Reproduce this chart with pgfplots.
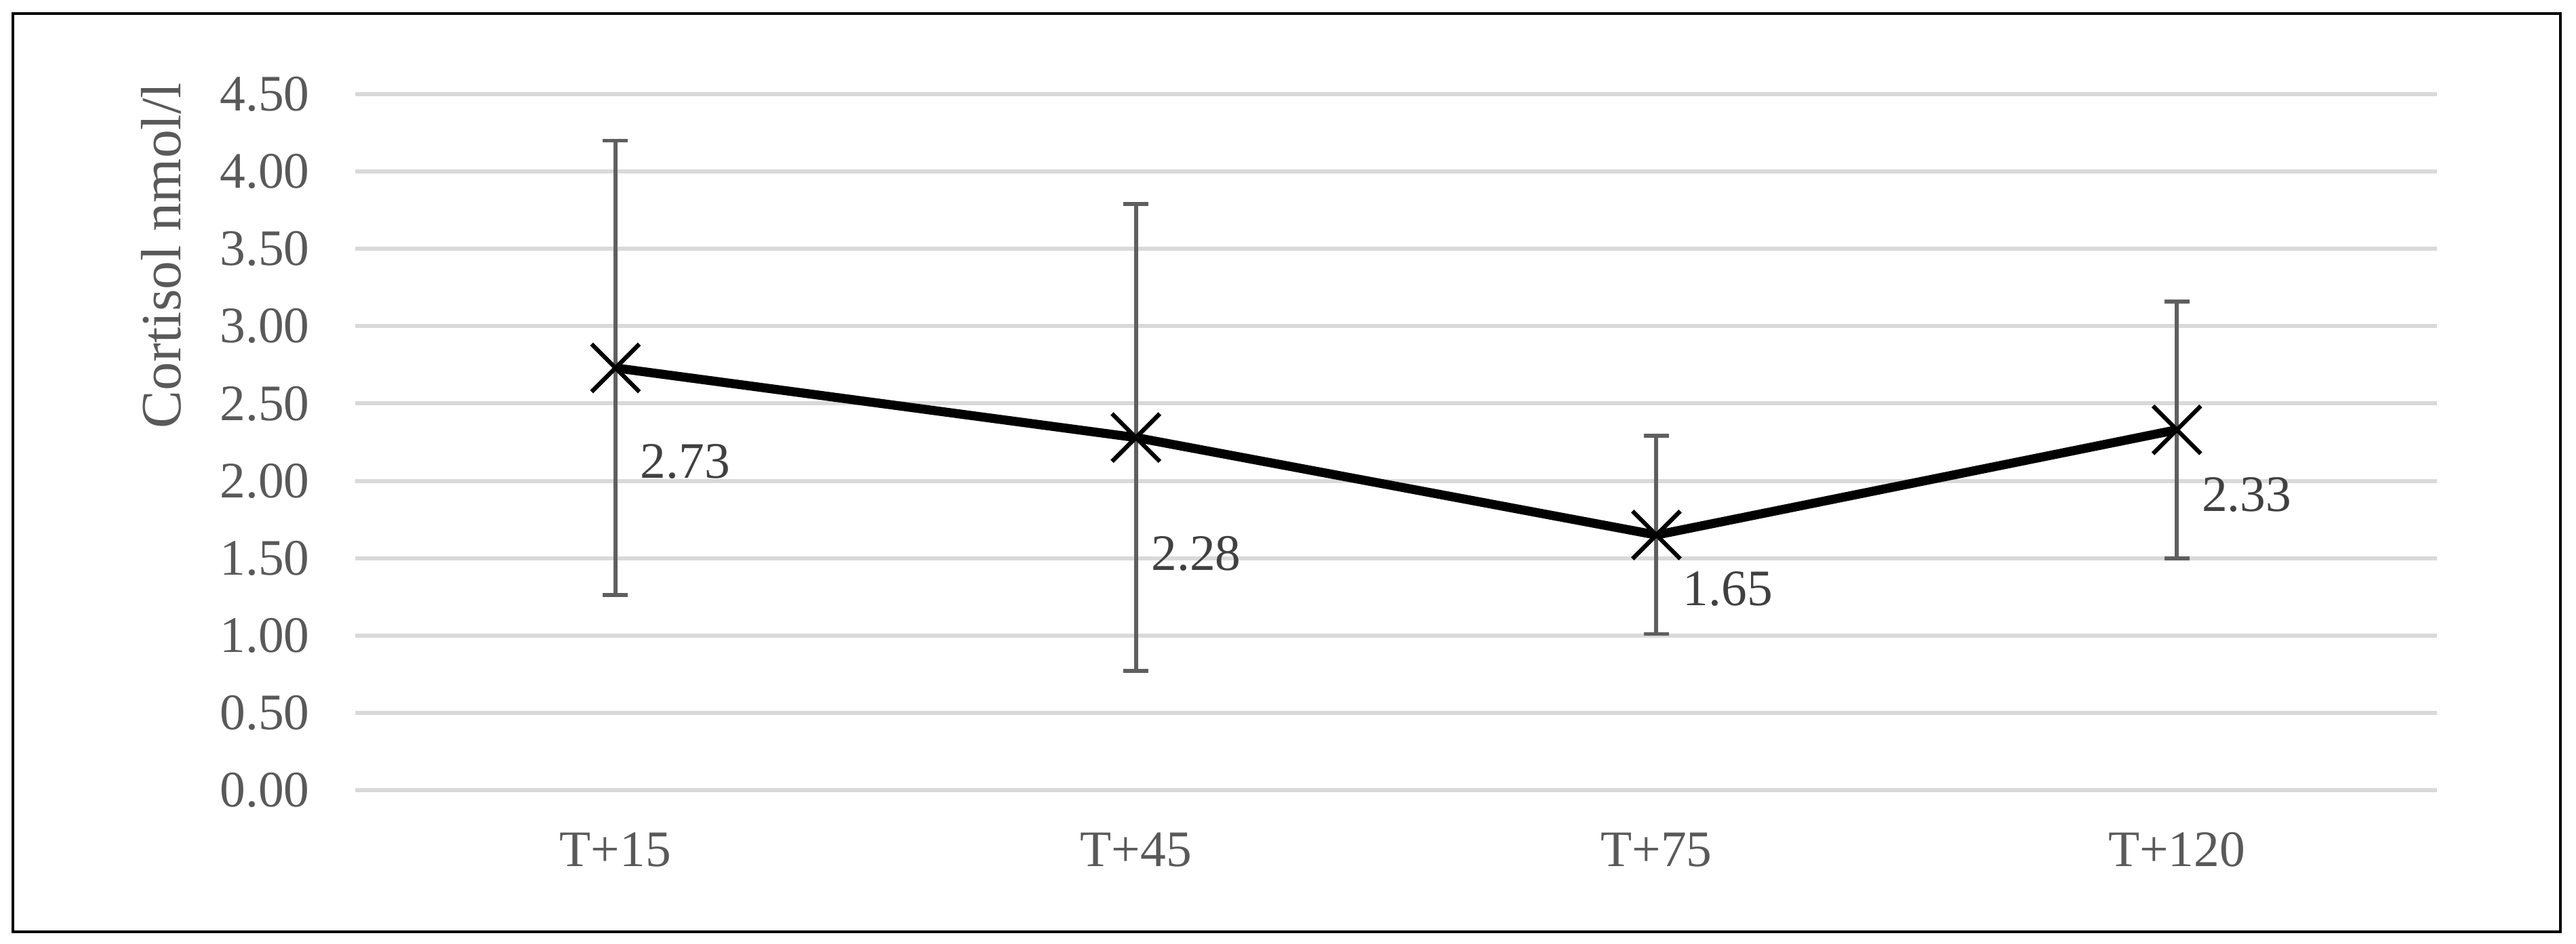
\documentclass[border=0pt]{standalone}
\usepackage{pgfplots}
\usepackage{pgfplotstable}
\usepackage{fontspec}
\setmainfont{Liberation Serif}
\pgfplotsset{compat=1.18}

\definecolor{tickgray}{HTML}{595959}
\definecolor{labelgray}{HTML}{404040}
\definecolor{gridgray}{HTML}{D9D9D9}
\definecolor{bargray}{HTML}{5F5F5F}

% mean cortisol, +- error, label offsets (pt)
\pgfplotstableread{
x y err dx dy
0 2.73 1.47 4.8 -22.0
1 2.28 1.51 2.9 -26.4
2 1.65 0.64 5.1 -14.1
3 2.33 0.83 4.8 -16.2
}\cortisol

\begin{document}
\begin{tikzpicture}
\useasboundingbox (0,0) rectangle (513.5pt,188.1pt);
\draw[line width=0.6pt] (2.57pt,2.3pt) rectangle (510.4pt,185.4pt);
\begin{axis}[
  at={(70.81pt,30.54pt)}, anchor=south west,
  scale only axis, width=415pt, height=138.78pt,
  clip=false,
  xmin=-0.5, xmax=3.5,
  ymin=0, ymax=4.5,
  xtick={0,1,2,3},
  xticklabels={T+15,T+45,T+75,T+120},
  ytick={0,0.5,...,4.5},
  axis line style={draw=none},
  major tick length=0pt,
  ymajorgrids=true,
  grid style={gridgray, line width=0.8pt},
  /pgf/number format/assume math mode=true,
  tick label style={font=\fontsize{10.2}{12}\selectfont, text=tickgray},
  yticklabel style={anchor=east, inner sep=0pt, xshift=-8.9pt,
    /pgf/number format/fixed, /pgf/number format/fixed zerofill,
    /pgf/number format/precision=2},
  xticklabel style={anchor=base, inner sep=0pt, yshift=-15.27pt},
  ylabel={Cortisol nmol/l},
  ylabel style={at={(axis description cs:-0.084,0.768)},
    anchor=base, inner sep=0pt,
    font=\fontsize{11.33}{13}\selectfont, text=tickgray},
]
\addplot[
  black, line width=1.8pt,
  mark=x, mark size=6.73pt,
  mark options={line width=0.85pt, solid},
  error bars/.cd, y dir=both, y explicit,
  error bar style={bargray, line width=0.8pt},
  error mark options={rotate=90, bargray, line width=0.8pt, mark size=2.5pt},
]
table[x=x, y=y, y error=err] {\cortisol};
\addplot[
  draw=none, mark=none,
  visualization depends on={\thisrow{dx} \as \dx},
  visualization depends on={\thisrow{dy} \as \dy},
  nodes near coords={\pgfmathprintnumber[fixed, fixed zerofill, precision=2, assume math mode=true]{\pgfplotspointmeta}},
  nodes near coords style={anchor=base west, inner sep=0pt,
    xshift=\dx pt, yshift=\dy pt,
    font=\fontsize{10.2}{12}\selectfont, text=labelgray},
]
table[x=x, y=y] {\cortisol};
\end{axis}
\end{tikzpicture}
\end{document}
